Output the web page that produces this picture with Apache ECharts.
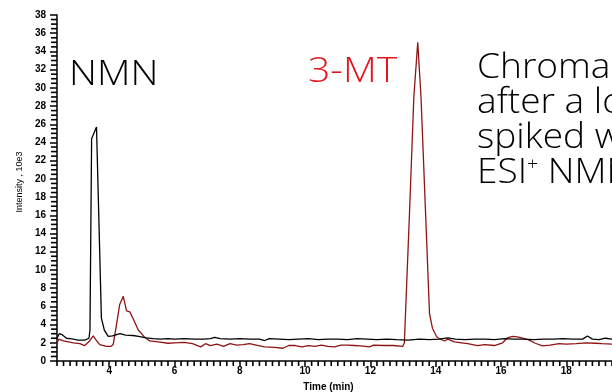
<!DOCTYPE html>
<html>
<head>
<meta charset="utf-8">
<script src="https://cdn.jsdelivr.net/npm/echarts@6/dist/echarts.min.js"></script>
<style>
  html, body { margin: 0; padding: 0; background: #fff; }
  #chart { width: 612px; height: 392px; }
</style>
</head>
<body>
<div id="chart"></div>
<script>
// NMN trace (black)
const nmnTime = [2.4, 2.47, 2.55, 2.69, 2.8, 2.9, 3.05, 3.25, 3.38, 3.41, 3.46, 3.61, 3.76, 3.85, 3.97,
  4.1, 4.33, 4.5, 4.73, 4.9, 5.13, 5.35, 5.55, 5.8, 6.0, 6.3, 6.6, 6.9, 7.1, 7.23, 7.4, 7.7, 8.0, 8.3, 8.6,
  8.76, 8.9, 9.2, 9.5, 9.8, 10.1, 10.4, 10.7, 11.0, 11.3, 11.6, 11.9, 12.2, 12.5, 12.8, 13.15, 13.5, 13.8,
  14.1, 14.37, 14.6, 14.9, 15.2, 15.5, 15.8, 16.1, 16.4, 16.7, 17.0, 17.3, 17.6, 17.9, 18.2, 18.5, 18.65,
  18.8, 19.0, 19.2, 19.4]
const nmnIntensity = [2.5, 3.0, 2.9, 2.5, 2.45, 2.4, 2.3, 2.3, 2.5, 3.4, 24.4, 25.7, 4.7, 3.4, 2.7,
  2.75, 3.0, 2.85, 2.8, 2.7, 2.55, 2.45, 2.4, 2.45, 2.4, 2.45, 2.4, 2.4, 2.45, 2.6, 2.45, 2.4, 2.45, 2.4, 2.4,
  2.25, 2.45, 2.4, 2.35, 2.4, 2.45, 2.35, 2.4, 2.4, 2.35, 2.45, 2.4, 2.35, 2.4, 2.35, 2.3, 2.4, 2.35,
  2.4, 2.55, 2.4, 2.35, 2.4, 2.4, 2.35, 2.45, 2.4, 2.4, 2.35, 2.4, 2.4, 2.45, 2.4, 2.4, 2.75,
  2.4, 2.35, 2.5, 2.4]

// 3-MT trace (dark red)
const mtTime = [2.4, 2.45, 2.5, 2.6, 2.75, 2.9, 3.1, 3.25, 3.4, 3.51, 3.6, 3.71, 3.92, 4.05, 4.12, 4.2,
  4.32, 4.43, 4.53, 4.63, 4.75, 4.89, 5.09, 5.24, 5.5, 5.8, 6.0, 6.3, 6.55, 6.8, 6.95, 7.1, 7.3, 7.5, 7.7,
  7.9, 8.1, 8.3, 8.5, 8.76, 9.07, 9.32, 9.5, 9.7, 9.9, 10.1, 10.3, 10.5, 10.7, 10.9, 11.1, 11.3, 11.5, 11.7,
  11.97, 12.1, 12.4, 12.7, 12.99, 13.04, 13.2, 13.33, 13.45, 13.55, 13.7, 13.81, 13.9, 14.01, 14.06, 14.27,
  14.37, 14.57, 14.8, 14.98, 15.28, 15.5, 15.8, 16.05, 16.2, 16.35, 16.5, 16.66, 16.86, 17.05, 17.27, 17.5,
  17.78, 18.0, 18.3, 18.6, 18.9, 19.1, 19.4]
const mtIntensity = [1.9, 2.4, 2.3, 2.2, 2.1, 2.0, 1.9, 1.7, 2.2, 2.75, 2.3, 1.8, 1.6, 1.6, 1.8, 3.5,
  6.2, 7.1, 5.5, 5.4, 4.5, 3.4, 2.6, 2.2, 2.1, 1.95, 2.0, 2.05, 1.9, 1.55, 1.9, 1.7, 1.85, 1.6, 1.9,
  1.75, 1.8, 1.9, 1.75, 1.55, 1.5, 1.4, 1.7, 1.7, 1.55, 1.7, 1.6, 1.75, 1.6, 1.55, 1.75, 1.75, 1.7, 1.65,
  1.55, 1.75, 1.7, 1.7, 1.6, 2.0, 16.5, 29, 35.0, 29, 15.3, 5.2, 3.6, 2.8, 2.55, 2.2,
  2.4, 2.1, 2.0, 1.9, 1.7, 1.8, 1.7, 2.0, 2.55, 2.7, 2.65, 2.5, 2.3, 1.95, 1.65, 1.75,
  1.9, 1.85, 1.9, 2.0, 1.95, 1.9, 1.85]

const xLabels = [4, 6, 8, 10, 12, 14, 16, 18]

// minor tick positions: every 0.2 min on x, every 0.5 on y
const xMinor = []
for (let i = 12; i <= 97; i++) if (i % 10) xMinor.push(+(i * 0.2).toFixed(1))
const yMinor = []
for (let i = 1; i < 76; i++) if (i % 4) yMinor.push(i * 0.5)

const noteLines = ['Chroma', 'after a lo', 'spiked w']

const chart = echarts.init(document.getElementById('chart'), null, { renderer: 'canvas' })

const tickFont = { color: '#000', fontSize: 10, fontWeight: 'bold', fontFamily: 'Liberation Sans' }
const bigFont = '300 34px "Open Sans"'
const xMin = 2.4
const tickStyle = { stroke: '#000', lineWidth: 1.6 }

// short minor tick below (x) or left of (y) the axis line, positioned by the axis scale
function tickItem(dir) {
  return (params, api) => {
    const p = api.coord([api.value(0), api.value(1)])
    return {
      type: 'line',
      shape: dir === 'x'
        ? { x1: p[0], y1: p[1], x2: p[0], y2: p[1] + 5 }
        : { x1: p[0], y1: p[1], x2: p[0] - 6, y2: p[1] },
      style: tickStyle,
    }
  }
}

const texts = [
  {
    type: 'text', x: 20, y: 182, rotation: Math.PI / 2,
    style: { text: 'Intensity , 10e3', fill: '#000', font: '9px "Liberation Sans"', align: 'center', verticalAlign: 'middle' },
  },
  {
    type: 'text', x: 69, y: 92, scaleX: 1.14,
    style: { text: 'NMN', fill: '#000', font: bigFont, verticalAlign: 'bottom' },
  },
  {
    type: 'text', x: 308, y: 89, scaleX: 1.15,
    style: { text: '3-MT', fill: '#e3141b', font: bigFont, verticalAlign: 'bottom' },
  },
  ...noteLines.map((line, i) => ({
    type: 'text', x: 477, y: 85 + i * 35, scaleX: 1.09,
    style: { text: line, fill: '#000', font: bigFont, verticalAlign: 'bottom' },
  })),
  {
    type: 'text', x: 477, y: 190, scaleX: 1.09,
    style: {
      text: 'ESI{s|+} NMN',
      fill: '#000',
      font: bigFont,
      verticalAlign: 'bottom',
      rich: { s: { fontSize: 18, fontFamily: 'Open Sans', fontWeight: 300, verticalAlign: 'top', padding: [0, 0, 16, 0] } },
    },
  },
]

chart.setOption({
  animation: false,
  backgroundColor: '#fff',
  grid: { left: 57, right: 0, top: 15, bottom: 31, containLabel: false, outerBoundsMode: 'none' },
  xAxis: {
    type: 'value',
    min: xMin,
    max: 19.4,
    splitLine: { show: false },
    axisLine: { show: true, onZero: false, lineStyle: { color: '#000', width: 1.5 } },
    axisTick: { show: true, customValues: xLabels, length: 6, lineStyle: { color: '#000', width: 1.5 } },
    axisLabel: { ...tickFont, customValues: xLabels, margin: 5 },
    name: 'Time (min)',
    nameLocation: 'middle',
    nameGap: 21,
    nameTextStyle: { color: '#000', fontSize: 10, fontWeight: 'bold', fontFamily: 'Liberation Sans', padding: [0, 12, 0, 0] },
  },
  yAxis: {
    type: 'value',
    min: 0,
    max: 38,
    interval: 2,
    splitLine: { show: false },
    axisLine: { show: true, onZero: false, lineStyle: { color: '#000', width: 1.5 } },
    axisTick: { show: true, length: 7, lineStyle: { color: '#000', width: 1.5 } },
    axisLabel: { ...tickFont, margin: 11 },
  },
  graphic: texts,
  series: [
    {
      name: 'NMN',
      type: 'line',
      data: nmnTime.map((t, i) => [t, nmnIntensity[i]]),
      symbol: 'none',
      lineStyle: { color: '#000', width: 1.3 },
      z: 3,
    },
    {
      name: '3-MT',
      type: 'line',
      data: mtTime.map((t, i) => [t, mtIntensity[i]]),
      symbol: 'none',
      lineStyle: { color: '#8e1414', width: 1.3 },
      z: 2,
    },
    {
      name: 'xMinorTicks',
      type: 'custom',
      clip: false,
      silent: true,
      z: 10,
      data: xMinor.map((t) => [t, 0]),
      renderItem: tickItem('x'),
    },
    {
      name: 'yMinorTicks',
      type: 'custom',
      clip: false,
      silent: true,
      z: 10,
      data: yMinor.map((v) => [xMin, v]),
      renderItem: tickItem('y'),
    },
  ],
})
</script>
</body>
</html>
